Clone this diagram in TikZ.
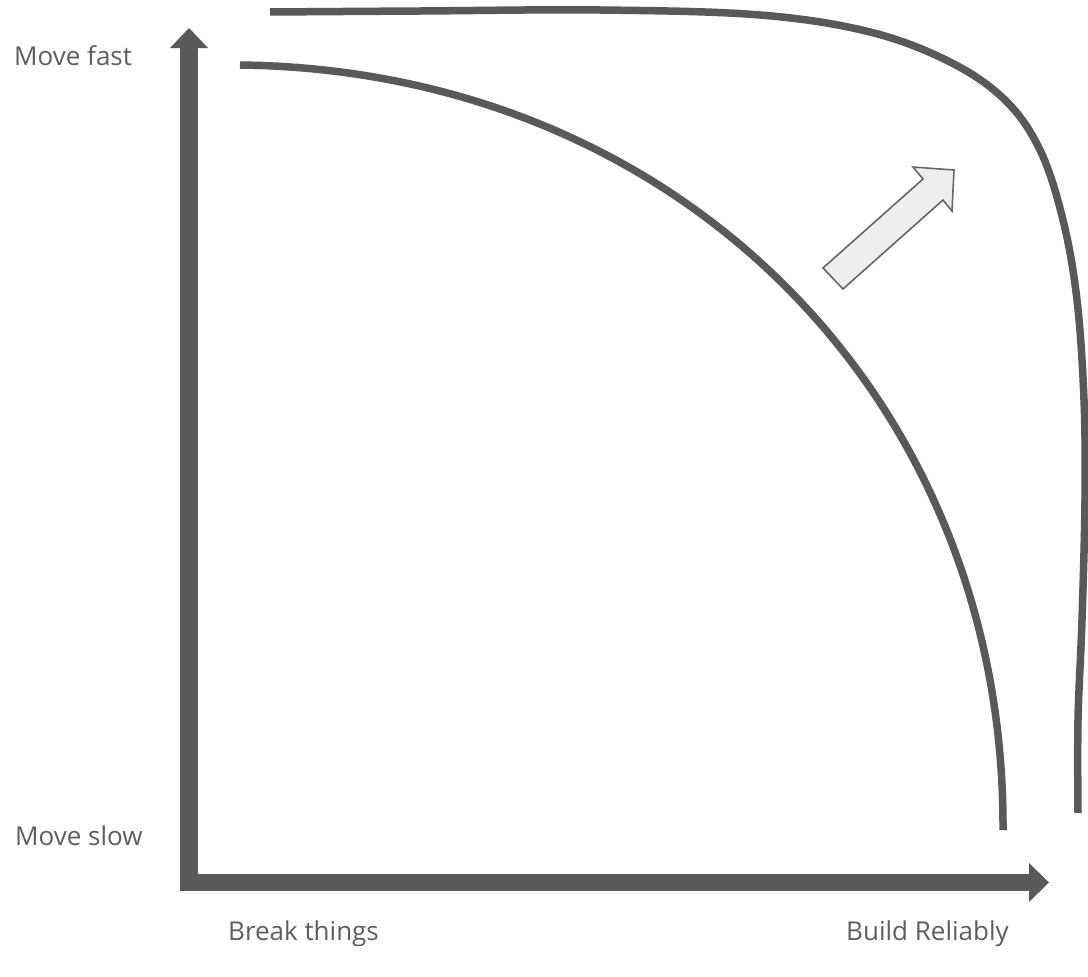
\documentclass[tikz,border=0pt]{standalone}
\usepackage{fontspec}
\setmainfont{Open Sans}
\definecolor{axisgray}{HTML}{595959}
\definecolor{labelgray}{HTML}{5E5E5E}
\definecolor{arrowfill}{HTML}{EEEEEE}
\definecolor{arrowline}{HTML}{666666}
\tikzset{
    axisbar/.style={fill=axisgray},
    frontier/.style={draw=axisgray, line width=7.5pt},
    blockarrow/.style={draw=arrowline, fill=arrowfill, line width=1.6pt, line join=miter},
    axislabel/.style={anchor=base west, inner sep=0pt, text=labelgray,
        font=\fontsize{26}{30}\selectfont}
}
\begin{document}
\begin{tikzpicture}[x=1pt, y=-1pt]
    \useasboundingbox (0,0) rectangle (1088,977);

    % Axes (thick bars with triangular heads)
    \fill[axisbar] (180,891) rectangle (198,48);
    \fill[axisbar] (170,48) -- (189,28) -- (208,48) -- cycle;
    \fill[axisbar] (180,874) rectangle (1029,891);
    \fill[axisbar] (1029,863) -- (1049,882.5) -- (1029,902) -- cycle;

    % Axis labels
    \node[axislabel] (fast) at (14,65) {Move fast};
    \node[axislabel] (slow) at (15,845) {Move slow};
    \node[axislabel] (break) at (228,940) {Break things};
    \node[axislabel] (build) at (846,940) {Build Reliably};

    % Current frontier: roughly a quarter ellipse
    \draw[frontier] (240,65) .. controls (680,70) and (1005,400) .. (1003,830);

    % Pushed-out frontier, hand drawn look
    \draw[frontier, smooth, tension=0.6] plot coordinates {
        (270,12) (420,11) (600,10) (760,15) (870,32) (950,62) (1005,100)
        (1040,150) (1063,220) (1077,300) (1084,400) (1085,500) (1082,620)
        (1078,720) (1078,813)};

    % Shift arrow
    \draw[blockarrow] (823,268) -- (923,179) -- (913,167) -- (954,170)
        -- (952,211) -- (943,200) -- (843,289) -- cycle;
\end{tikzpicture}
\end{document}
